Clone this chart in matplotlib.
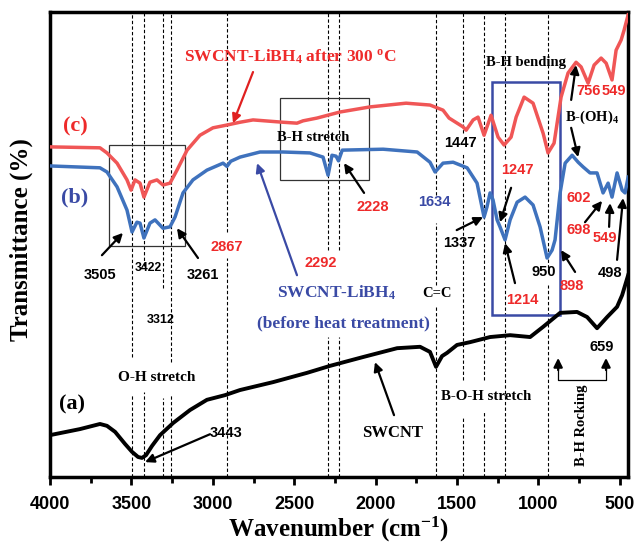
import matplotlib
matplotlib.use("Agg")
import matplotlib.pyplot as plt
from matplotlib.patches import Rectangle

# FTIR spectra (arbitrary transmittance units, 0-100)
wn_a = [4000, 3816, 3693, 3650, 3600, 3539, 3496, 3459, 3435, 3410, 3373, 3324, 3244,
        3140, 3036, 2925, 2833, 2630, 2421, 2280, 2077, 1868, 1727, 1666, 1629, 1592,
        1561, 1500, 1420, 1297, 1174, 1051, 971, 867, 763, 701, 640, 578, 517, 486, 449]
tr_a = [9.0, 10.3, 11.4, 11.0, 9.7, 7.1, 5.4, 4.3, 4.1, 4.7, 6.7, 9.0, 11.6,
        14.4, 16.6, 17.6, 18.7, 20.4, 22.4, 23.9, 25.8, 27.7, 28.0, 26.9, 23.7, 26.0,
        26.7, 28.4, 29.0, 30.1, 30.5, 30.1, 32.3, 35.3, 35.5, 34.4, 32.0, 34.4, 36.6, 39.1, 43.4]

wn_b = [4000, 3693, 3650, 3588, 3527, 3496, 3466, 3447, 3423, 3386, 3355, 3306, 3263,
        3232, 3183, 3122, 3036, 2937, 2913, 2890, 2833, 2710, 2569, 2403, 2323, 2292,
        2268, 2243, 2228, 2205, 1954, 1745, 1666, 1635, 1586, 1524, 1438, 1377, 1334,
        1316, 1297, 1279, 1254, 1236, 1205, 1174, 1131, 1082, 1033, 990, 947, 916, 898,
        867, 836, 793, 756, 726, 683, 640, 603, 572, 548, 517, 486, 468, 449]
tr_b = [66.9, 66.5, 65.6, 62.4, 57.4, 52.7, 54.8, 54.6, 51.4, 54.6, 55.3, 53.5, 53.8,
        55.9, 61.1, 63.9, 66.0, 67.5, 66.8, 67.9, 68.8, 69.9, 69.9, 69.7, 68.8, 64.9,
        69.2, 69.0, 68.0, 70.3, 70.5, 69.9, 67.7, 65.6, 67.5, 67.7, 66.5, 63.2, 55.9,
        58.1, 61.1, 59.6, 55.3, 53.8, 51.0, 55.3, 59.1, 60.2, 58.5, 53.8, 47.1, 48.8, 51.0,
        61.1, 67.5, 69.2, 67.7, 66.7, 65.4, 65.4, 61.1, 63.2, 60.2, 65.4, 61.7, 61.1, 64.5]

wn_c = [4000, 3693, 3650, 3588, 3527, 3502, 3478, 3447, 3423, 3386, 3343, 3306, 3263,
        3220, 3158, 3079, 2999, 2913, 2833, 2753, 2569, 2483, 2446, 2360, 2219, 2034,
        1813, 1666, 1586, 1549, 1463, 1444, 1401, 1371, 1334, 1291, 1248, 1211, 1168,
        1137, 1088, 1033, 971, 941, 904, 861, 818, 769, 738, 695, 658, 615, 584, 548,
        523, 492, 474, 449]
tr_c = [71.0, 70.8, 69.7, 67.5, 63.9, 61.7, 63.9, 63.2, 60.2, 63.4, 63.9, 62.8, 63.2,
        66.0, 70.3, 73.5, 75.1, 75.7, 76.3, 76.8, 76.3, 76.1, 76.6, 77.2, 78.5, 79.6,
        80.4, 80.0, 78.9, 77.2, 75.3, 74.6, 76.8, 77.4, 73.5, 77.8, 73.1, 71.4, 73.1,
        77.4, 81.7, 80.4, 73.9, 69.7, 71.8, 81.7, 86.9, 89.2, 88.2, 84.7, 88.6, 90.1, 89.0, 85.4,
        91.8, 94.0, 96.1, 99.4]

# dashed guide lines: wavenumber and visible y segments
guide_wn = [3498, 3421, 3304, 3259, 2915, 2290, 2225, 1629, 1465, 1336, 1205, 939]
guide_seg = [
    [(25.8, 100), (0, 17.6)],
    [(45.4, 100), (0, 18.3)],
    [(40.6, 100), (0, 17.0)],
    [(24.7, 100), (0, 17.6)],
    [(52.7, 100), (0, 47.1)],
    [(48.8, 100), (0, 30.1)],
    [(48.8, 100), (0, 30.1)],
    [(60.6, 100), (41.3, 54.6), (0, 37.0)],
    [(73.9, 100), (20.9, 69.7), (0, 12.9)],
    [(20.9, 100), (0, 14.0)],
    [(68.4, 100), (0, 64.1)],
    [(45.0, 100), (0, 41.3)],
]

red = '#f05656'
blue = '#3f72bd'
navy = '#3a4aa5'
lab_red = '#ee2a2a'

plt.rcParams['mathtext.default'] = 'regular'
serif = 'Liberation Serif'
sans = 'Liberation Sans'

fig = plt.figure(figsize=(6.36, 5.48), dpi=100)
ax = fig.add_axes([0.0786, 0.1296, 0.9088, 0.8484])

for x, segs in zip(guide_wn, guide_seg):
    for y0, y1 in segs:
        ax.plot([x, x], [y0, y1], color='k', lw=0.8, ls=(0, (3, 2)), zorder=1)

ax.plot(wn_a, tr_a, color='k', lw=2.8, zorder=3)
ax.plot(wn_b, tr_b, color=blue, lw=2.5, zorder=3)
ax.plot(wn_c, tr_c, color=red, lw=2.5, zorder=3)

# boxes
ax.add_patch(Rectangle((3638, 49.7), 3171 - 3638, 71.4 - 49.7, fill=False, ec='#333333', lw=0.9, zorder=2))
ax.add_patch(Rectangle((2587, 63.9), 2040 - 2587, 81.5 - 63.9, fill=False, ec='#333333', lw=0.9, zorder=2))
ax.add_patch(Rectangle((1285, 34.8), 867 - 1285, 84.9 - 34.8, fill=False, ec=navy, lw=1.8, zorder=2))

def lab(x, y, s, c='k', size=10.5, fam=sans, **kw):
    ax.text(x, y, s, color=c, fontsize=size, fontweight='bold', family=fam,
            ha='center', va='center', zorder=5, **kw)

def arr(x0, y0, x1, y1, c='k'):
    ax.annotate('', xy=(x1, y1), xytext=(x0, y0),
                arrowprops=dict(arrowstyle='-|>', color=c, lw=1.6, mutation_scale=13,
                                shrinkA=0, shrinkB=0), zorder=5)

# serif labels
lab(2526, 90.3, 'SWCNT-LiBH$_4$ after 300 $^{o}$C', c=lab_red, size=12.5, fam=serif)
lab(3846, 75.3, '(c)', c=lab_red, size=16, fam=serif)
lab(3846, 60.2, '(b)', c=navy, size=16, fam=serif)
lab(3865, 15.5, '(a)', size=16, fam=serif)
lab(2384, 73.1, 'B-H stretch', size=10.5, fam=serif)
lab(1076, 89.2, 'B-H bending', size=10.5, fam=serif)
lab(670, 77.4, 'B-(OH)$_4$', size=10.5, fam=serif)
lab(2243, 39.6, 'SWCNT-LiBH$_4$', c=navy, size=12.5, fam=serif)
lab(2200, 33.1, '(before heat treatment)', c=navy, size=12.5, fam=serif)
lab(1623, 39.4, 'C=C', size=10.5, fam=serif)
lab(3343, 21.5, 'O-H stretch', size=11, fam=serif)
lab(1899, 9.5, 'SWCNT', size=12, fam=serif)
lab(1322, 17.4, 'B-O-H stretch', size=10.7, fam=serif)
lab(738, 11.2, 'B-H Rocking', size=10.5, fam=serif, rotation=90)

# peak numbers
lab(1481, 71.8, '1447')
lab(1131, 66.0, '1247', c=lab_red)
lab(2016, 58.1, '2228', c=lab_red)
lab(1641, 59.1, '1634', c=navy)
lab(750, 60.0, '602', c=lab_red)
lab(750, 53.1, '698', c=lab_red)
lab(591, 51.4, '549', c=lab_red)
lab(695, 83.0, '756', c=lab_red)
lab(535, 83.0, '549', c=lab_red)
lab(1487, 50.3, '1337')
lab(965, 44.1, '950')
lab(793, 41.1, '898', c=lab_red)
lab(560, 43.9, '498')
lab(1100, 38.1, '1214', c=lab_red)
lab(3693, 43.4, '3505')
lab(3398, 44.9, '3422', size=8.8)
lab(3060, 43.4, '3261')
lab(2913, 49.5, '2867', c=lab_red)
lab(2335, 46.0, '2292', c=lab_red)
lab(3318, 33.8, '3312', size=9)
lab(2919, 9.5, '3443')
lab(609, 28.0, '659')

# arrows
arr(2753, 87.1, 2876, 76.1, c='#e02020')
arr(2483, 43.4, 2728, 67.5, c=navy)
arr(3681, 47.7, 3552, 52.5)
arr(3091, 47.1, 3220, 53.5)
arr(2071, 61.1, 2194, 67.5)
arr(1502, 53.1, 1340, 55.9)
arr(1168, 62.2, 1236, 54.8)
arr(1144, 41.7, 1205, 50.3)
arr(775, 44.1, 861, 48.8)
arr(714, 54.8, 609, 59.4)
arr(566, 53.8, 560, 58.9)
arr(517, 46.7, 480, 60.0)
arr(799, 81.1, 769, 88.6)
arr(799, 75.1, 756, 68.8)
arr(3017, 9.2, 3416, 3.2)
arr(1887, 13.3, 2004, 24.7)

# B-H rocking bracket
ax.plot([879, 879, 585, 585], [23.5, 20.9, 20.9, 23.5], color='k', lw=0.9, zorder=4)
arr(879, 23.0, 879, 25.6)
arr(585, 23.0, 585, 25.6)

ax.set_xlim(4000, 450)
ax.set_ylim(0, 100)
ax.set_xticks([4000, 3500, 3000, 2500, 2000, 1500, 1000, 500])
ax.set_xticks(range(3750, 450, -500), minor=True)
ax.set_yticks([])
ax.tick_params(axis='x', which='major', direction='out', length=6, width=2, pad=8)
ax.tick_params(axis='x', which='minor', direction='out', length=4, width=2)
for t in ax.get_xticklabels():
    t.set_fontfamily(sans)
    t.set_fontweight('bold')
    t.set_fontsize(13)
for s in ax.spines.values():
    s.set_linewidth(2.5)

ax.set_xlabel('Wavenumber (cm$^{-1}$)', family=serif, fontweight='bold', fontsize=18, labelpad=1)
ax.set_ylabel('Transmittance (%)', family=serif, fontweight='bold', fontsize=18)
ax.yaxis.set_label_coords(-0.03, 0.51)

fig.savefig('out.png', dpi=100)
